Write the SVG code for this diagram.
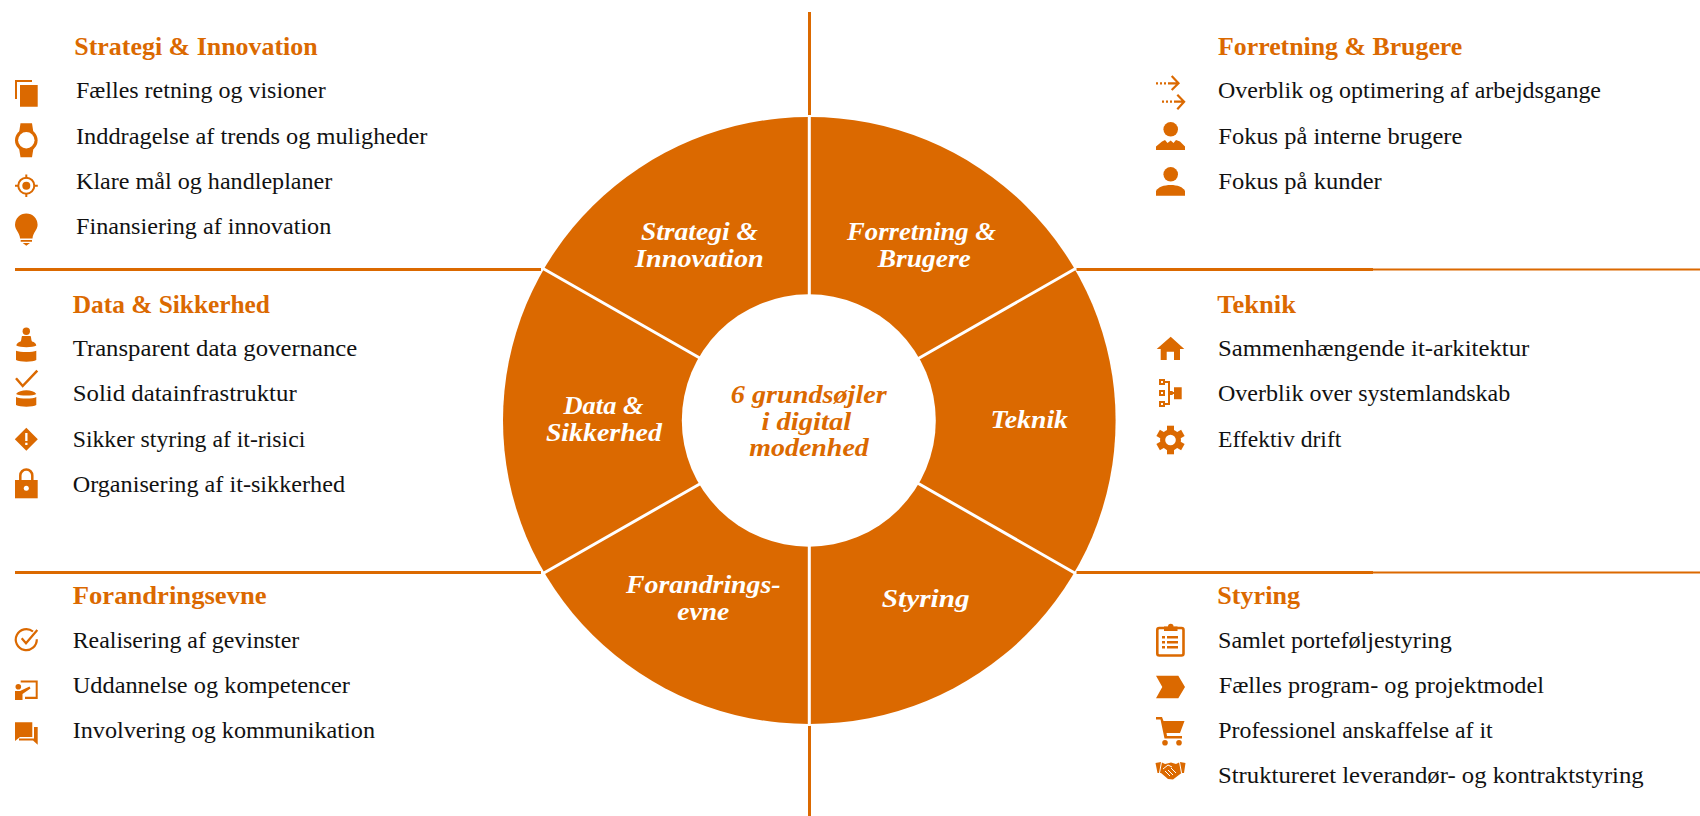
<svg xmlns="http://www.w3.org/2000/svg" width="1700" height="816" viewBox="0 0 1700 816">
<style>
text{font-family:"Liberation Serif","DejaVu Serif",serif}
.h{font-size:24.500px;font-weight:700;fill:#db6900}
.t{font-size:23.500px;fill:#111}
.w{font-size:25.500px;font-weight:700;font-style:italic;fill:#fff;text-anchor:middle}
.c{font-size:25.500px;font-weight:700;font-style:italic;fill:#db6900;text-anchor:middle}
.o{fill:#db6900}
.s{fill:none;stroke:#db6900;stroke-width:2.200}
.r{stroke:#db6900;stroke-width:3;fill:none}
</style>
<g id="connectors">
<path class="r" d="M809.500 12V115M809.500 725.500V816M15 269.500H541M15 572.500H541M1076.500 269.500H1373M1076.500 572.500H1373"/>
<path d="M1373 269.500H1700M1373 572.500H1700" fill="none" stroke="#db6900" stroke-width="2"/>
</g>
<g id="wheel">
<ellipse cx="809.300" cy="420.500" rx="306.300" ry="303.500" class="o"/>
<g stroke="#fff" stroke-width="3" fill="none"><path d="M809.300 115V300M809.300 541V726M543 268.500L705 361M1075.600 268.500L914 361M543 573.500L705 481M1075.600 573.500L914 481"/></g>
<ellipse cx="808.800" cy="420.500" rx="127" ry="126.200" fill="#fff"/>
</g>
<g id="seg-strategi"><text class="w" lengthAdjust="spacingAndGlyphs" x="699.400" y="240.100" textLength="117">Strategi &amp;</text><text class="w" lengthAdjust="spacingAndGlyphs" x="699.400" y="266.500" textLength="128.600">Innovation</text></g>
<g id="seg-forretning"><text class="w" lengthAdjust="spacingAndGlyphs" x="921.500" y="240.100" textLength="149">Forretning &amp;</text><text class="w" lengthAdjust="spacingAndGlyphs" x="924.300" y="266.500" textLength="93">Brugere</text></g>
<g id="seg-data"><text class="w" lengthAdjust="spacingAndGlyphs" x="603.500" y="414" textLength="80">Data &amp;</text><text class="w" lengthAdjust="spacingAndGlyphs" x="603.900" y="440.900" textLength="116">Sikkerhed</text></g>
<g id="seg-teknik"><text class="w" lengthAdjust="spacingAndGlyphs" x="1029.200" y="428.300" textLength="77.500">Teknik</text></g>
<g id="seg-forandring"><text class="w" lengthAdjust="spacingAndGlyphs" x="703.300" y="593.200" textLength="154.700">Forandrings-</text><text class="w" lengthAdjust="spacingAndGlyphs" x="703.300" y="619.700" textLength="52">evne</text></g>
<g id="seg-styring"><text class="w" lengthAdjust="spacingAndGlyphs" x="925.700" y="606.500" textLength="87.800">Styring</text></g>
<g id="center"><text class="c" lengthAdjust="spacingAndGlyphs" x="808.800" y="403.400" textLength="156">6 grundsøjler</text><text class="c" lengthAdjust="spacingAndGlyphs" x="806.300" y="429.500" textLength="89.800">i digital</text><text class="c" lengthAdjust="spacingAndGlyphs" x="809" y="455.500" textLength="119.600">modenhed</text></g>

<g id="strategi">
<text class="h" lengthAdjust="spacingAndGlyphs" x="74.300" y="54.800" textLength="243.400">Strategi &amp; Innovation</text>
<text class="t" lengthAdjust="spacingAndGlyphs" x="76" y="97.700" textLength="249.700">Fælles retning og visioner</text>
<text class="t" lengthAdjust="spacingAndGlyphs" x="76" y="144" textLength="351.300">Inddragelse af trends og muligheder</text>
<text class="t" lengthAdjust="spacingAndGlyphs" x="76" y="189" textLength="256.300">Klare mål og handleplaner</text>
<text class="t" lengthAdjust="spacingAndGlyphs" x="76" y="233.700" textLength="255.300">Finansiering af innovation</text>
<path class="o" d="M15 80H32V82H17V99H15ZM20 85H37.700V106.700H20Z"/>
<path class="o" d="M20.500 123.300H32L33.500 133H19ZM19 148H33.500L32 157.300H20.500Z"/><circle class="o" cx="26.300" cy="140.300" r="11.300"/><circle cx="26.300" cy="140.300" r="8.200" fill="#fff"/>
<circle class="s" cx="26.300" cy="185.700" r="8" style="stroke-width:2"/><circle class="o" cx="26.300" cy="185.700" r="4"/><path class="s" style="stroke-width:2" d="M26.300 174.500v4M26.300 193v4M15 185.700h4M33.800 185.700h4"/>
<path class="o" d="M15 224.700a11.300 11.300 0 1 1 22.600 0C37.600 230 33 232 32.500 238.500H20.100C19.600 232 15 230 15 224.700ZM20.700 240H32V241.700H20.700ZM22.700 243H30L26.300 245.700Z"/>
</g>
<g id="data">
<text class="h" lengthAdjust="spacingAndGlyphs" x="72.700" y="313" textLength="197.300">Data &amp; Sikkerhed</text>
<text class="t" lengthAdjust="spacingAndGlyphs" x="72.700" y="356" textLength="284.600">Transparent data governance</text>
<text class="t" lengthAdjust="spacingAndGlyphs" x="72.700" y="400.700" textLength="224">Solid datainfrastruktur</text>
<text class="t" lengthAdjust="spacingAndGlyphs" x="72.700" y="446.700" textLength="232.600">Sikker styring af it-risici</text>
<text class="t" lengthAdjust="spacingAndGlyphs" x="72.700" y="491.700" textLength="272.300">Organisering af it-sikkerhed</text>
<circle class="o" cx="26.300" cy="331.300" r="3.700"/>
<path class="o" d="M22 336H30.600C31.500 338 31 340 32 341.500C34.500 342 36 343.500 36.300 345.500C33 347.800 20 347.800 16.300 345.500C16.600 343.500 18.500 342 20.600 341.500C21.600 340 21.200 338 22 336ZM16 350.700C20 352.500 33 352.500 36.300 350.700V360C33 362.300 20 362.300 16 360Z"/>
<path class="s" style="stroke-width:2.500" d="M16 378.300L22.700 386L37.300 370.700"/>
<path class="o" d="M16 394C20 389 33 389 36.300 394C33 396 20 396 16 394ZM16 397C20 399 33 399 36.300 397V405C33 407.300 20 407.300 16 405Z"/>
<path class="o" d="M26.300 427.800L37.800 439.300L26.300 450.800L14.800 439.300Z"/><path fill="#fff" d="M25.200 433H27.500V441H25.200ZM25.200 442.800H27.500V445H25.200Z"/>
<path class="s" style="stroke-width:2.500" d="M20.300 481V475.500a6 6 0 0 1 12 0V481"/><path class="o" d="M15 480H37.700V498.300H15Z"/><circle cx="26.300" cy="488.300" r="2.500" fill="#fff"/>
</g>
<g id="forandring">
<text class="h" lengthAdjust="spacingAndGlyphs" x="72.700" y="603.700" textLength="194">Forandringsevne</text>
<text class="t" lengthAdjust="spacingAndGlyphs" x="72.700" y="647.700" textLength="226.600">Realisering af gevinster</text>
<text class="t" lengthAdjust="spacingAndGlyphs" x="72.700" y="693.300" textLength="277.300">Uddannelse og kompetencer</text>
<text class="t" lengthAdjust="spacingAndGlyphs" x="72.700" y="737.700" textLength="302.300">Involvering og kommunikation</text>
<path class="s" d="M33 631.500A10.500 10.500 0 1 0 36.800 639.300"/><path class="s" d="M21.700 638.300L26 643.300L37.300 630"/>
<path class="o" d="M20.700 680.500H37.700V697H35.700V682.500H20.700ZM25 696.700H37.700V699H25Z"/><circle class="o" cx="18.300" cy="686.700" r="2.800"/><path class="o" d="M15 691H20L29.500 686.500L30.500 688.500L22.500 694V700H15Z"/>
<path class="o" d="M15 722.300H32.300V737H20L15 741Z"/><path class="o" d="M34 727H37.700V744.700L33 740.500H19V738.500H34Z"/>
</g>
<g id="forretning">
<text class="h" lengthAdjust="spacingAndGlyphs" x="1218" y="54.800" textLength="244.300">Forretning &amp; Brugere</text>
<text class="t" lengthAdjust="spacingAndGlyphs" x="1218" y="97.700" textLength="383">Overblik og optimering af arbejdsgange</text>
<text class="t" lengthAdjust="spacingAndGlyphs" x="1218.300" y="144" textLength="244">Fokus på interne brugere</text>
<text class="t" lengthAdjust="spacingAndGlyphs" x="1218.300" y="189.300" textLength="163.400">Fokus på kunder</text>
<path class="s" d="M1156 83.300h13" stroke-dasharray="2 2"/><path class="s" d="M1169 83.300h9M1171.700 76l6.800 7.300l-6.800 6.700"/>
<path class="s" d="M1162 101.700h12" stroke-dasharray="2 2"/><path class="s" d="M1174 101.700h9.500M1177.300 94.700l6.800 7l-6.800 7.500"/>
<circle class="o" cx="1170.700" cy="129.300" r="7.300"/><path class="o" d="M1156 150V146.500L1162 141.500L1165 140L1167.500 143L1170.700 140.500L1173.500 143L1176 140L1180 141.500L1185 146.500V150Z"/>
<circle class="o" cx="1170.700" cy="174.300" r="7.300"/><path class="o" d="M1156 195.700V191C1158 187 1164 185 1170.700 185S1183 187 1185 191V195.700Z"/>
</g>
<g id="teknik">
<text class="h" lengthAdjust="spacingAndGlyphs" x="1217.300" y="313" textLength="78.700">Teknik</text>
<text class="t" lengthAdjust="spacingAndGlyphs" x="1218" y="356" textLength="311.300">Sammenhængende it-arkitektur</text>
<text class="t" lengthAdjust="spacingAndGlyphs" x="1218" y="400.700" textLength="292.300">Overblik over systemlandskab</text>
<text class="t" lengthAdjust="spacingAndGlyphs" x="1218" y="446.700" textLength="123.300">Effektiv drift</text>
<path class="o" d="M1170.700 336.700L1184.300 349H1180V360H1174V351.700H1166.700V360H1160.700V349H1156.700Z"/>
<path fill="none" stroke="#db6900" stroke-width="2" d="M1160 380H1164V384H1160ZM1160 391H1164V395H1160ZM1160 402H1164V406H1160ZM1164 382H1169V404H1164M1169 393H1174"/>
<path class="o" d="M1168.300 391H1172.700V395H1168.300ZM1174 387.300H1181.700V399.300H1174Z"/>
<g class="o"><circle cx="1170.500" cy="440" r="10.500"/><path d="M1167 425.700H1174V454.300H1167Z"/><path d="M1167 425.700H1174V454.300H1167Z" transform="rotate(60 1170.500 440)"/><path d="M1167 425.700H1174V454.300H1167Z" transform="rotate(-60 1170.500 440)"/></g><circle cx="1170.500" cy="440" r="5.300" fill="#fff"/>
</g>
<g id="styring">
<text class="h" lengthAdjust="spacingAndGlyphs" x="1217.300" y="603.700" textLength="82.700">Styring</text>
<text class="t" lengthAdjust="spacingAndGlyphs" x="1218" y="647.700" textLength="233.700">Samlet porteføljestyring</text>
<text class="t" lengthAdjust="spacingAndGlyphs" x="1218.700" y="693.300" textLength="325.300">Fælles program- og projektmodel</text>
<text class="t" lengthAdjust="spacingAndGlyphs" x="1218.300" y="737.700" textLength="274.400">Professionel anskaffelse af it</text>
<text class="t" lengthAdjust="spacingAndGlyphs" x="1218" y="783" textLength="425.700">Struktureret leverandør- og kontraktstyring</text>
<rect class="s" style="stroke-width:2.600" x="1157.300" y="628" width="26.200" height="27.500" rx="2"/><path class="o" d="M1164 626.500H1168A2.700 2.700 0 0 1 1173.500 626.500H1177.500V631H1164Z"/><path class="o" d="M1162 636h3v2.400h-3zM1167 636h11v2.400h-11zM1162 641h3v2.400h-3zM1167 641h11v2.400h-11zM1162 646h3v2.400h-3zM1167 646h11v2.400h-11z"/>
<path class="o" d="M1156 675.700H1178.300L1185 687L1178.300 698.300H1156L1162.300 687Z"/>
<path class="o" d="M1156 717H1162L1163.500 721H1184.500L1180 733H1166.500L1167 736H1182V738.500H1164.500L1160.500 719.500H1156Z"/><circle class="o" cx="1165" cy="742.700" r="2.800"/><circle class="o" cx="1179" cy="742.700" r="2.800"/>
<path class="o" d="M1155.500 763L1161 762L1165 764L1171 762.500L1176 764L1180 762L1185.500 763L1184 773L1181.500 773L1173 779.500L1168 779L1161 773L1157.500 773Z"/><path fill="none" stroke="#fff" d="M1161.500 762L1159.500 773M1179.500 762L1181.500 773M1163 769L1168 765L1172 767M1165 771L1170 776M1168 770L1173 775M1171 768L1176 773"/>
</g>
</svg>
